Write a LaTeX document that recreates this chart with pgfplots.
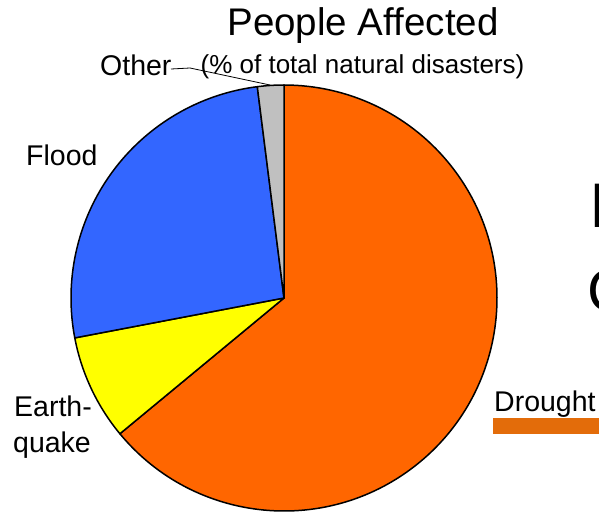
\documentclass[border=0pt]{standalone}
\usepackage{pgfplots}
\usepackage{pgfplotstable}
\pgfplotsset{compat=1.18}
\usepackage{fontspec}
\setmainfont{Liberation Sans}
\definecolor{cdrought}{HTML}{FF6600}
\definecolor{cquake}{HTML}{FFFF00}
\definecolor{cflood}{HTML}{3366FF}
\definecolor{cother}{HTML}{C0C0C0}
\definecolor{cbar}{HTML}{E36C0A}
\pgfplotstableread{
name value
Other 2
Flood 26
Earthquake 8
Drought 64
}\piedata
\begin{document}
\begin{tikzpicture}
\pgfplotstablegetelem{0}{value}\of\piedata \let\vOther\pgfplotsretval
\pgfplotstablegetelem{1}{value}\of\piedata \let\vFlood\pgfplotsretval
\pgfplotstablegetelem{2}{value}\of\piedata \let\vQuake\pgfplotsretval
\pgfplotstablegetelem{3}{value}\of\piedata \let\vDrought\pgfplotsretval
\pgfmathsetmacro\aA{90}
\pgfmathsetmacro\aB{\aA+3.6*\vOther}
\pgfmathsetmacro\aC{\aB+3.6*\vFlood}
\pgfmathsetmacro\aD{\aC+3.6*\vQuake}
\pgfmathsetmacro\aE{\aD+3.6*\vDrought}
\useasboundingbox (0,0) rectangle (599pt,513pt);
\clip (0,0) rectangle (599pt,513pt);
\begin{axis}[at={(0,0)}, anchor=south west, scale only axis,
  width=599pt, height=513pt, xmin=0, xmax=599, ymin=0, ymax=513,
  y dir=reverse, hide axis, clip=false]
\filldraw[fill=cdrought, draw=black, line width=1.5pt, line join=round]
  (axis cs:284,298) -- ++(\aD:213pt) arc[start angle=\aD, end angle=\aE, radius=213pt] -- cycle;
\filldraw[fill=cquake, draw=black, line width=1.5pt, line join=round]
  (axis cs:284,298) -- ++(\aC:213pt) arc[start angle=\aC, end angle=\aD, radius=213pt] -- cycle;
\filldraw[fill=cflood, draw=black, line width=1.5pt, line join=round]
  (axis cs:284,298) -- ++(\aB:213pt) arc[start angle=\aB, end angle=\aC, radius=213pt] -- cycle;
\filldraw[fill=cother, draw=black, line width=1.5pt, line join=round]
  (axis cs:284,298) -- ++(\aA:213pt) arc[start angle=\aA, end angle=\aB, radius=213pt] -- cycle;
\draw[line width=0.8pt] (axis cs:171,69) -- (axis cs:190,68) -- (axis cs:270,85);
\node[anchor=base, inner sep=0pt, font=\fontsize{38.5}{41}\selectfont] at (axis cs:363,36) {People Affected};
\node[anchor=base, inner sep=0pt, font=\fontsize{26}{28}\selectfont] at (axis cs:362.5,74) {(\% of total natural disasters)};
\node[anchor=base west, inner sep=0pt, font=\fontsize{28.5}{30}\selectfont] at (axis cs:100,76) {Other};
\node[anchor=base west, inner sep=0pt, font=\fontsize{28.5}{30}\selectfont] at (axis cs:26,165) {Flood};
\node[anchor=base west, inner sep=0pt, font=\fontsize{28.5}{30}\selectfont] at (axis cs:14,416) {Earth-};
\node[anchor=base west, inner sep=0pt, font=\fontsize{28.5}{30}\selectfont] at (axis cs:13,452) {quake};
\node[anchor=base west, inner sep=0pt, font=\fontsize{28.5}{30}\selectfont] at (axis cs:494,411) {Drought};
\fill[cbar] (axis cs:493,418) rectangle (axis cs:610,434);
\node[anchor=base west, inner sep=0pt, font=\fontsize{63}{66}\selectfont] at (axis cs:589,227) {I};
\node[anchor=base west, inner sep=0pt, font=\fontsize{60}{64}\selectfont] at (axis cs:587,311) {C};
\end{axis}
\end{tikzpicture}
\end{document}
